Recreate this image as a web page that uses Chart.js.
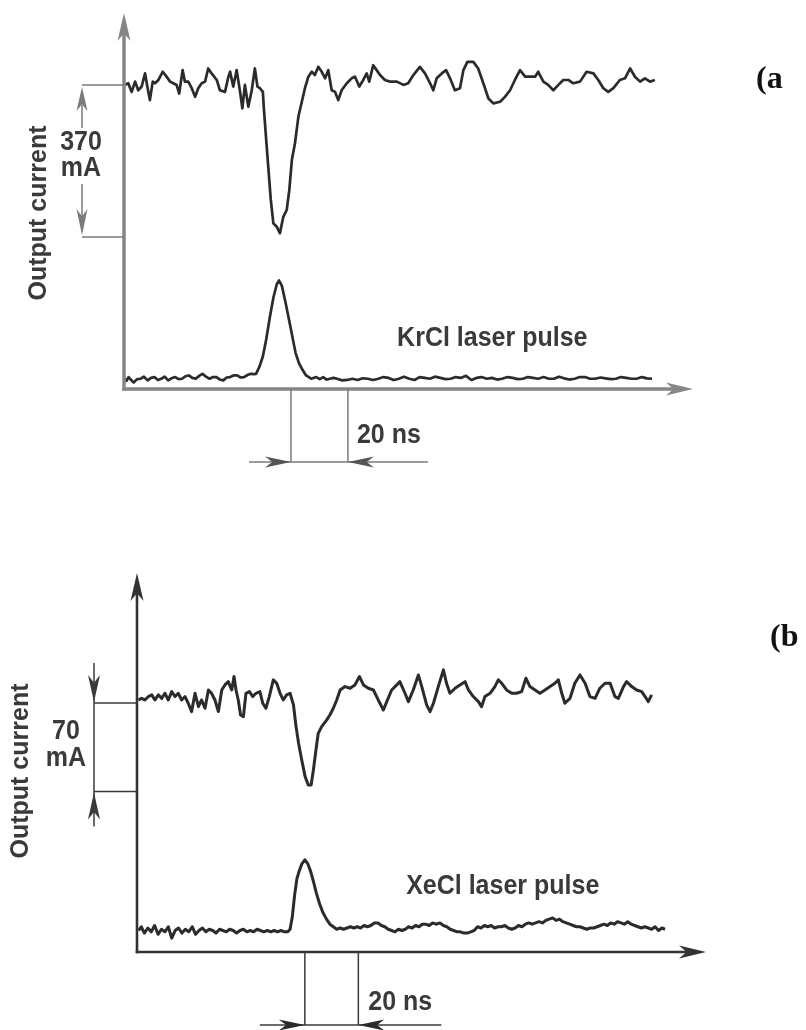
<!DOCTYPE html>
<html>
<head>
<meta charset="utf-8">
<script src="https://cdn.jsdelivr.net/npm/chart.js@4.4.1/dist/chart.umd.min.js"></script>
<style>
html,body{margin:0;padding:0;background:#fff;}
#wrap{position:relative;width:806px;height:1030px;overflow:hidden;background:#fff;}
canvas{position:absolute;left:0;}
</style>
</head>
<body>
<div id="wrap">
<canvas id="chartA" width="806" height="500" style="top:0"></canvas>
<canvas id="chartB" width="806" height="530" style="top:500px"></canvas>
</div>
<script>
// (a) KrCl: photocurrent (top) and laser pulse (bottom), time in ns, signal in mA (offset display)
var upperA_t = [0.4,1.5,2.7,3.9,5.0,6.2,7.4,8.2,9.1,10.1,10.9,12.1,13.6,15.0,16.2,17.3,18.5,19.4,20.6,21.4,22.6,23.8,25.0,26.1,27.3,28.5,29.6,30.8,32.6,33.7,35.5,36.7,37.3,38.4,39.6,40.8,41.6,42.5,43.7,44.9,46.0,46.9,47.8,48.8,49.2,49.9,50.7,51.6,52.5,53.7,54.8,56.0,57.2,58.1,59.0,60.1,61.3,62.5,63.6,64.8,66.0,67.1,68.3,69.5,70.7,71.8,73.0,74.2,75.3,76.5,78.3,80.0,81.2,82.7,84.1,85.3,86.2,87.6,88.8,90.0,91.7,93.5,95.9,98.2,99.9,101.7,104.0,105.8,107.6,108.7,109.9,111.7,113.2,114.6,116.3,118.1,119.3,120.7,122.8,124.5,126.3,128.1,129.8,132.2,133.9,135.7,137.4,139.2,141.0,142.7,144.5,145.6,147.4,149.1,150.9,152.7,154.4,156.2,157.9,160.3,162.6,165.0,166.7,168.5,170.2,172.0,174.3,176.1,177.9,179.6,181.4,183.1,184.9,186.6];
var upperA_mA = [740,744,723,748,727,736,768,736,703,748,744,752,772,760,748,744,740,719,776,748,748,732,711,732,744,748,780,768,752,727,723,760,772,736,776,723,683,740,687,727,780,736,732,723,679,614,541,460,403,395,379,419,436,484,557,598,663,699,732,760,772,764,784,772,756,776,727,723,703,727,744,756,760,736,752,768,748,788,776,764,752,748,748,740,744,764,784,768,744,727,756,768,776,756,727,732,776,796,796,780,744,707,695,699,711,727,752,776,760,760,760,772,748,740,727,740,752,752,744,748,772,768,752,732,723,732,752,756,780,760,748,756,748,752];
var lowerA_t = [0.0,0.9,1.6,2.5,3.4,4.6,5.9,7.0,8.3,9.5,10.7,11.9,13.1,14.3,15.5,16.7,18.0,19.2,20.4,21.6,22.8,24.0,25.2,26.4,27.6,28.8,30.1,31.3,32.5,33.7,34.9,36.1,37.3,38.5,39.8,41.0,42.2,43.4,44.6,45.5,46.4,47.6,48.8,50.0,51.2,52.5,53.7,54.5,55.5,56.7,57.9,59.1,60.3,61.5,62.8,64.0,65.8,67.6,68.8,70.0,71.2,72.4,73.6,74.9,76.7,78.5,80.3,82.1,83.9,85.7,87.5,89.4,91.2,93.0,94.8,96.6,98.4,100.3,102.1,103.9,105.7,107.5,109.3,111.2,113.0,114.8,116.6,118.4,120.2,122.1,123.9,125.7,127.5,129.3,131.1,132.9,134.8,136.6,138.4,140.2,142.0,143.8,145.6,147.5,149.3,151.1,152.9,154.7,156.5,158.4,160.2,162.0,163.8,165.6,167.5,169.3,171.1,172.9,174.7,176.5,178.4,180.2,182.0,183.8,185.6];
var lowerA_mA = [27,20,29,22,16,24,25,30,21,27,29,22,25,30,21,26,29,24,25,31,33,27,25,32,37,30,25,29,29,23,21,28,29,33,33,28,29,34,37,36,37,54,79,121,172,222,255,264,251,213,172,130,88,63,46,33,25,29,24,29,23,25,27,25,21,22,25,22,26,25,22,25,29,27,22,25,30,25,22,29,27,25,30,27,24,25,29,27,32,22,27,29,25,27,23,25,29,27,24,25,29,27,25,29,25,25,30,26,23,25,29,29,25,25,28,26,24,25,29,27,25,25,29,26,25];

// (b) XeCl
var upperB_t = [0.5,1.6,2.8,4.0,5.2,6.3,7.5,8.7,9.8,11.0,12.2,13.4,14.5,15.7,16.9,18.0,19.2,20.4,21.6,22.7,23.9,25.1,26.2,27.4,28.6,29.8,30.9,32.1,33.3,34.1,34.8,35.6,36.4,37.4,38.3,39.5,40.7,41.8,43.2,44.2,45.3,46.5,47.9,49.1,50.3,51.4,52.6,53.8,55.0,55.9,56.8,57.9,59.1,60.2,61.2,62.0,62.9,63.7,64.9,66.7,67.8,69.0,70.2,71.4,73.1,74.9,76.6,78.2,79.6,81.3,83.1,84.8,86.6,87.8,89.5,91.3,92.4,94.2,95.4,97.1,98.9,100.1,101.8,103.0,104.2,105.9,107.7,108.8,110.0,111.8,113.5,115.3,116.5,118.2,120.0,121.1,122.3,124.1,125.8,127.0,128.2,129.9,131.7,133.4,135.2,136.7,138.1,139.9,141.6,143.4,145.2,146.9,148.1,149.3,150.4,152.2,153.9,155.7,157.5,159.2,161.0,162.7,164.5,166.3,168.0,169.2,171.0,172.1,173.9,175.6,177.4,178.6,179.7,180.9];
var upperB_mA = [199.5,200.8,199.5,202.2,203.5,199.5,203.5,200.8,204.8,199.5,206.1,202.2,204.8,199.5,202.2,196.9,190.3,204.8,194.2,199.5,192.9,207.4,204.8,199.5,190.3,207.4,211.4,214.0,207.4,218.0,207.4,199.5,187.6,186.3,204.8,206.1,202.2,204.8,206.1,196.9,192.9,202.2,215.4,212.7,204.8,199.5,203.5,204.8,195.6,178.4,165.2,152.0,138.8,132.2,132.2,144.1,159.9,173.1,178.4,183.7,187.6,192.9,199.5,207.4,210.1,208.8,211.4,218.0,211.4,208.8,207.4,199.5,191.6,198.2,207.4,211.4,214.0,204.8,198.2,207.4,219.3,210.1,195.6,190.3,196.9,210.1,223.3,212.7,204.8,208.8,211.4,214.0,207.4,202.2,198.2,194.2,202.2,204.8,210.1,215.4,212.7,207.4,204.8,204.8,206.1,216.7,210.1,207.4,204.8,207.4,210.1,212.7,215.4,204.8,196.9,200.8,212.7,219.3,212.7,202.2,200.8,208.8,212.7,212.7,202.2,200.8,210.1,214.0,210.1,207.4,206.1,202.2,198.2,203.5];
var lowerB_t = [0.6,1.5,2.6,3.8,5.0,6.2,7.4,8.6,9.8,11.0,12.2,13.4,14.6,15.8,17.0,18.2,19.4,20.6,21.8,23.0,24.2,25.4,26.6,27.8,29.0,30.2,31.4,32.6,33.8,35.0,36.2,37.4,38.6,39.8,41.0,42.2,43.4,44.6,45.8,47.0,48.2,49.4,50.6,51.8,53.0,53.8,54.6,55.4,56.2,57.0,58.0,59.0,60.0,61.0,62.0,63.0,64.2,65.4,66.6,67.8,69.0,70.2,71.4,72.6,73.8,75.0,76.2,77.4,78.6,79.8,81.0,82.2,83.4,84.7,85.9,87.1,88.3,89.5,90.7,91.9,93.1,94.3,95.5,96.7,97.9,99.1,100.3,101.5,102.7,103.9,105.1,106.5,107.7,108.9,110.1,111.3,112.5,113.7,114.9,116.1,117.3,118.5,119.7,120.9,122.1,123.3,124.5,125.7,126.9,128.1,129.3,130.5,131.7,132.9,134.1,135.3,136.5,137.7,138.9,140.1,141.3,142.5,143.7,144.9,146.1,147.3,148.5,149.7,150.9,152.1,153.3,154.5,155.7,156.9,158.1,159.3,160.5,161.7,162.9,164.1,165.3,166.5,167.7,168.9,170.1,171.3,172.5,173.7,174.9,176.1,177.3,178.5,179.7,180.9,182.1,183.3,184.5,185.6];
var lowerB_mA = [17,20,15,19,16,21,14,18,16,20,11,17,19,15,18,16,20,14,17,19,16,18,17,15,18,17,16,18,17,15,17,18,16,17,16,18,17,16,17,16,17,16,17,16,16,18,28,45,58,64,70,73,70,64,56,47,38,31,26,22,20,18,19,18,19,20,19,20,19,21,20,21,23,23,21,20,18,17,16,18,17,18,20,19,21,20,22,22,21,23,22,23,21,20,18,17,16,16,15,15,16,17,20,19,21,20,21,19,20,20,21,19,18,19,21,20,22,23,22,23,24,23,25,26,27,25,26,24,23,22,21,20,20,19,18,19,19,20,21,22,21,23,22,24,23,22,24,22,21,20,19,20,19,18,20,17,19,18];

// scale marks
var markA = [58.7, 78.7];
var markB = [59.0, 77.8];
var bracketA = [740, 370];
var bracketB = [197, 127];

function pts(t, v) {
    var out = [];
    for (var i = 0; i < t.length; i++) out.push({x: t[i], y: v[i]});
    return out;
}

function head(ctx, tx, ty, dx, dy, len, half) {
    var bx = tx - dx * len, by = ty - dy * len;
    var nx = tx - dx * len * 0.72, ny = ty - dy * len * 0.72;
    ctx.beginPath();
    ctx.moveTo(tx, ty);
    ctx.lineTo(bx - dy * half, by + dx * half);
    ctx.lineTo(nx, ny);
    ctx.lineTo(bx + dy * half, by - dx * half);
    ctx.closePath();
    ctx.fill();
}

function line(ctx, x1, y1, x2, y2) {
    ctx.beginPath();
    ctx.moveTo(x1, y1);
    ctx.lineTo(x2, y2);
    ctx.stroke();
}

// bold text, a little taller than normal like the scanned figure
function label(ctx, txt, x, y, align) {
    ctx.save();
    ctx.translate(x, y);
    ctx.scale(1, 1.1);
    ctx.textAlign = align;
    ctx.fillText(txt, 0, 0);
    ctx.restore();
}

var FONT = '"Liberation Sans", Arial, sans-serif';

var scopePlugin = {
    id: 'scope',
    afterDraw: function(chart, args, o) {
        var ctx = chart.ctx, a = chart.chartArea;
        var xs = chart.scales.x, ys = chart.scales.y;
        ctx.save();

        // axes with arrows
        ctx.strokeStyle = o.axisColor;
        ctx.fillStyle = o.axisColor;
        ctx.lineWidth = o.axisWidth;
        line(ctx, a.left, a.bottom + o.axisWidth / 2, a.left, a.top + 12);
        line(ctx, a.left - o.axisWidth / 2, a.bottom, a.right - 12, a.bottom);
        head(ctx, a.left, a.top, 0, -1, 28, 6.5);
        head(ctx, a.right, a.bottom, 1, 0, 27, 6.5);

        // current bracket
        var b = o.bracket;
        var y1 = ys.getPixelForValue(b.values[0]);
        var y2 = ys.getPixelForValue(b.values[1]);
        ctx.strokeStyle = o.markColor;
        ctx.fillStyle = o.markColor;
        ctx.lineWidth = 1.5;
        line(ctx, b.x, y1, a.left, y1);
        line(ctx, b.x, y2, a.left, y2);
        if (b.style === 'inner') {
            line(ctx, b.x, y1 + 20, b.x, b.textY[0] - 14);
            head(ctx, b.x, y1 + 2, 0, -1, 24, 5.5);
            line(ctx, b.x, b.textY[1] + 16, b.x, y2 - 20);
            head(ctx, b.x, y2 - 2, 0, 1, 26, 5.5);
        } else {
            line(ctx, b.x, y1 - 40, b.x, y2 + 35);
            head(ctx, b.x, y1 - 1, 0, 1, 27, 6);
            head(ctx, b.x, y2 + 1, 0, -1, 27, 6);
        }

        // 20 ns marker
        var m1 = xs.getPixelForValue(o.marks[0]);
        var m2 = xs.getPixelForValue(o.marks[1]);
        var my = a.bottom + o.markDrop;
        line(ctx, m1, a.bottom, m1, my);
        line(ctx, m2, a.bottom, m2, my);
        line(ctx, m1 - o.markExt[0], my, m2 + o.markExt[1], my);
        ctx.fillStyle = o.headColor;
        head(ctx, m1, my, 1, 0, 26, 5.5);
        head(ctx, m2, my, -1, 0, 26, 5.5);

        // texts
        ctx.fillStyle = o.textColor;
        ctx.font = 'bold 25px ' + FONT;
        ctx.textBaseline = 'middle';
        label(ctx, b.text[0], b.textX, b.textY[0], 'center');
        label(ctx, b.text[1], b.textX, b.textY[1], 'center');
        label(ctx, o.pulseLabel, xs.getPixelForValue(o.pulseAt[0]), ys.getPixelForValue(o.pulseAt[1]), 'left');
        label(ctx, '20 ns', m2 + o.nsDx, a.bottom + o.nsDy, 'left');

        ctx.save();
        ctx.translate(o.yTitle[0], o.yTitle[1]);
        ctx.rotate(-Math.PI / 2);
        ctx.textAlign = 'center';
        ctx.fillText('Output current', 0, 0);
        ctx.restore();

        ctx.fillStyle = '#111';
        ctx.font = 'bold 32px "Liberation Serif", "Times New Roman", serif';
        ctx.textBaseline = 'alphabetic';
        ctx.textAlign = 'left';
        ctx.fillText(o.panel[0], o.panel[1], o.panel[2]);

        ctx.restore();
    }
};

function makeChart(id, sets, yMax, pad, width, scope) {
    return new Chart(document.getElementById(id), {
        type: 'line',
        data: {
            datasets: sets.map(function(s) {
                return {
                    data: s,
                    borderColor: '#2b2b2b',
                    borderWidth: width,
                    pointRadius: 0,
                    tension: 0,
                    borderJoinStyle: 'round',
                    fill: false,
                    clip: false
                };
            })
        },
        options: {
            responsive: false,
            animation: false,
            devicePixelRatio: 1,
            layout: {padding: pad},
            scales: {
                x: {type: 'linear', min: 0, max: 200, display: false},
                y: {type: 'linear', min: 0, max: yMax, display: false}
            },
            plugins: {
                legend: {display: false},
                tooltip: {enabled: false},
                scope: scope
            }
        },
        plugins: [scopePlugin]
    });
}

makeChart('chartA',
    [pts(upperA_t, upperA_mA), pts(lowerA_t, lowerA_mA)],
    915,
    {left: 124, right: 113, top: 13, bottom: 111},
    2.7,
    {
        axisColor: '#868686', axisWidth: 3.5, markColor: '#7a7a7a', headColor: '#555', textColor: '#3a3a3a',
        bracket: {values: bracketA, x: 82, style: 'inner', text: ['370', 'mA'], textX: 81, textY: [142, 168]},
        marks: markA, markDrop: 73, markExt: [42, 80], nsDx: 9, nsDy: 46,
        pulseLabel: 'KrCl laser pulse', pulseAt: [96, 122],
        yTitle: [39, 213],
        panel: ['(a', 756, 88]
    });

makeChart('chartB',
    [pts(upperB_t, upperB_mA), pts(lowerB_t, lowerB_mA)],
    300,
    {left: 137, right: 100, top: 73, bottom: 78},
    3,
    {
        axisColor: '#333333', axisWidth: 2.6, markColor: '#3a3a3a', headColor: '#2a2a2a', textColor: '#3a3a3a',
        bracket: {values: bracketB, x: 94, style: 'outer', text: ['70', 'mA'], textX: 66, textY: [231, 258]},
        marks: markB, markDrop: 73, markExt: [45, 83], nsDx: 10, nsDy: 50,
        pulseLabel: 'XeCl laser pulse', pulseAt: [94.6, 52],
        yTitle: [21, 271],
        panel: ['(b', 770, 146]
    });
</script>
</body>
</html>
